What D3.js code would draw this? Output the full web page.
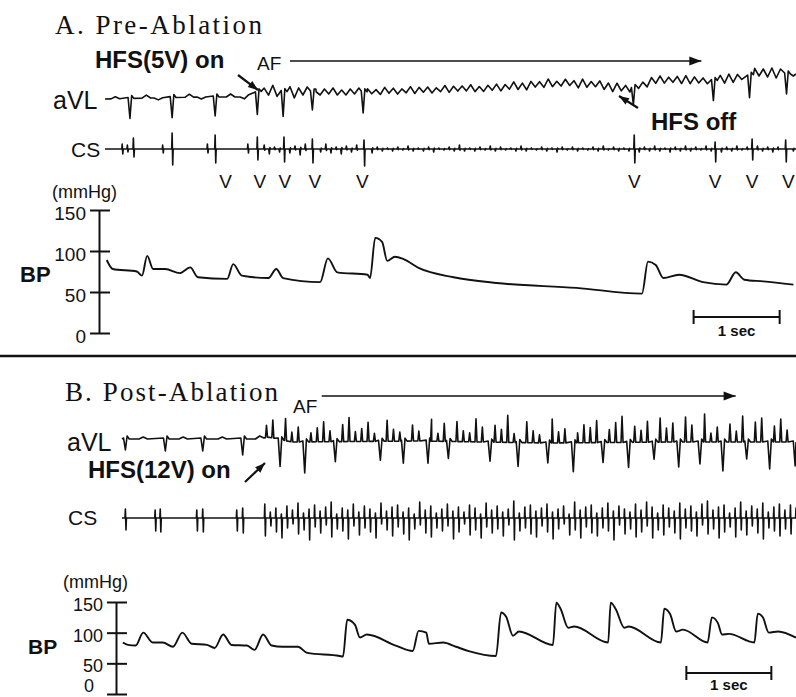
<!DOCTYPE html>
<html><head><meta charset="utf-8">
<script src="https://cdn.jsdelivr.net/npm/d3@7"></script>
<style>
body{margin:0;background:#fff}
svg{display:block}
text{font-family:"Liberation Sans",Arial,sans-serif;fill:#111}
.serif{font-family:"Liberation Serif","Times New Roman",serif}
</style></head><body>
<svg id="c" width="796" height="697"></svg>
<script>
// ================= DATA (time in seconds, trace offsets in display units, BP in mmHg) =================
const bpTicks = [0, 50, 100, 150];

// ---- Panel A : Pre-Ablation ----
const durA = 8.03;
const afSpanA = [2.15, 6.93];
const scaleBarA = [6.84, 7.84];
const vLabelsA = [1.40, 1.80, 2.09, 2.44, 2.99, 6.15, 7.09, 7.52, 7.94];
const avlBaseA = [[0,1],[1.10,3],[1.57,3],[1.83,9],[2.27,8],[2.97,8],[3.43,9],[4.13,11],[4.59,12],[5.29,17],[5.76,15],[6.10,11],[6.45,20],[6.92,19],[7.27,20],[7.57,26],[8.03,26]];
const avlQrsA = [[0.29,-20],[0.78,-20],[1.28,-19],[1.77,-22],[2.07,-25],[2.41,-18],[3.00,-21],[6.14,-17],[7.07,-20],[7.49,-22],[7.92,-20]];
const avlWavesA = [[0.12,2],[0.48,3],[0.62,-2],[0.98,3],[1.12,-2],[1.46,3],[1.62,-3]];
const avlFibA = [3,-4,6,-5,8,-3,5,-6,4,-3,5,-4,3,-3,
  3,-2,4,-3,2,-3,3,-2,4,-3,3,-2,2,-3,4,-2,3,-3,2,-2,4,-3,3,-2,3,-3,2,-2,4,-3,3,-2,3,-2,4,-3,2,-3,3,-2,
  4,-3,3,-2,5,-3,3,-4,4,-2,3,-3,5,-3,2,-3,4,-2,3,-4,5,-3,3,-2,4,-4,3,-5,4,-3,3,
  -3,4,-2,3,-3,5,-2,4,-3,3,-2,4,-3,5,-3,4,-2,3,-3,4,-2,5,-3,6,-3,4,-2,5,-3,6,-2,5,-3,6,-4,5,-3,4,-2];
const avlFibSpanA = [1.85, 8.0];
const csVA = [[0.33,11,8],[0.78,16,16],[1.28,14,14],[1.77,12,11],[2.08,12,13],[2.41,10,14],[3.01,9,17],[6.15,14,14],[7.09,7,13],[7.52,10,11],[7.91,9,13]];
const csAtrialA = [[0.20,5,5],[0.26,4,3],[0.67,4,4],[1.19,5,4],[1.66,5,4]];
const csFibA = [4,-5,2,-3,6,-4,3,-6,5,-2,4,-3,5,-4,2,-5,3,-3,4,-2,3,-4,2,
  -2,1,-2,2,-1,3,-2,1,-2,2,-3,1,-1,2,-2,4,-2,1,-2,2,-1,3,-2,2,-1,1,-2,3,-2,1,-1,2,-2,1,-3,2,-1,2,-2,1,-1,2,-2,3,-1,2,-2,1,
  -2,2,-3,2,-2,3,-2,1,-3,2,-2,3,-2,2,-1,3,-2,2,-3,2,-2,3,-1,2,-2,3,-2,2,-3,2,-1,2,-2];
const csFibSpanA = [1.85, 8.0];
const bpA = [[0.02,89],[0.09,78],[0.37,75],[0.43,70],[0.49,94],[0.56,78],[0.70,78],[0.87,73],[0.99,80],[1.08,68],[1.42,66],[1.49,84],[1.59,70],[1.90,67],[1.99,78],[2.07,67],[2.50,62],[2.59,91],[2.70,74],[3.05,71],[3.08,67],[3.14,116],[3.22,111],[3.28,88],[3.37,93],[3.47,90],[3.65,79],[4.05,68],[4.55,61],[5.48,55],[6.24,48],[6.31,87],[6.40,83],[6.49,67],[6.67,71],[6.95,62],[7.22,59],[7.33,74],[7.43,65],[7.65,63],[8.00,59]];

// ---- Panel B : Post-Ablation ----
const durB = 7.93;
const afSpanB = [2.35, 7.22];
const scaleBarB = [6.64, 7.64];
const avlBaseB = [[0,1],[1.62,1],[1.72,3],[2.0,-2],[3.5,-1],[5.0,-3],[6.5,-2],[7.93,-2]];
const avlQrsB = [[0.04,-11],[0.51,-12],[0.95,-12],[1.42,-16],[1.86,-27],[2.15,-31],[2.51,-20],[3.04,-19],[3.31,-22],[3.60,-22],[3.84,-17],[4.33,-19],[4.66,-24],[5.01,-20],[5.31,-29],[5.66,-20],[5.96,-25],[6.26,-17],[6.55,-25],[6.80,-22],[7.07,-29],[7.35,-17],[7.62,-27],[7.92,-24]];
const avlWavesB = [[0.25,2],[0.72,2],[1.18,2],[1.62,3]];
const avlSpikesB = [12,18,8,22,10,15,26,9,14,20,11,7,17,24,10,13,19,8,15,21,12,9,25,16,10,14,22,8,18,12,20,11,9,23,15,10,17,13,27,9,16,21,12,8,19,24,11,14,33,10,18,15,22,9,13,20,26,11,16,12,21,8,24,14,19,10,25,17,12,28,9,15,22,18,11,26,13,20,24,10,16,23,12,19];
const avlSpikeSpanB = [1.70, 7.90];
const csPreB = [[0.04,9,12],[0.39,8,13],[0.45,9,14],[0.88,8,13],[0.95,9,14],[1.35,8,13],[1.42,10,15]];
const csUpB = [14,6,10,4,12,8,15,5,9,13,7,11,16,4,10,8,14,6,12,9,5,15,7,11,13,6,10,4,16,8,12,5,9,14,7,11,6,13,10,4,15,8,12,6,9,17,5,11,13,7,10,14,6,9,12,4,16,8,11,13,5,10,15,7,12,9,6,14,8,16,11,5,13,10,7,15,9,12,6,14,17,8,11,13,5,10,16,7,12,9,15,6,11,14,8,13,10];
const csDownB = [18,8,14,20,10,6,16,12,22,9,15,7,19,11,13,21,8,17,10,14,20,6,12,18,9,16,22,11,7,15,19,10,13,8,21,14,6,17,12,20,9,15,11,18,7,22,13,10,16,19,8,14,21,11,6,17,12,20,9,15,18,10,13,22,7,16,11,19,14,8,20,12,17,9,15,21,10,13,18,7,16,11,20,14,9,19,12,17,8,15,21,10,13,18,11,16,14];
const csSpanB = [1.68, 7.93];
const bpB = [[0.01,84],[0.07,80],[0.16,79],[0.25,100],[0.36,84],[0.48,84],[0.60,77],[0.71,100],[0.82,82],[1.00,80],[1.09,75],[1.19,97],[1.29,80],[1.47,79],[1.56,72],[1.66,97],[1.76,79],[1.89,77],[2.07,77],[2.18,67],[2.56,62],[2.60,61],[2.65,121],[2.74,113],[2.80,92],[2.88,97],[3.22,79],[3.42,70],[3.49,103],[3.58,100],[3.61,82],[3.78,84],[3.93,77],[4.08,70],[4.40,62],[4.46,133],[4.52,126],[4.60,95],[4.67,102],[5.07,80],[5.11,149],[5.16,139],[5.25,108],[5.32,110],[5.72,84],[5.75,149],[5.81,138],[5.91,108],[5.96,110],[6.34,84],[6.38,139],[6.45,130],[6.52,102],[6.60,105],[6.89,84],[6.94,125],[7.01,116],[7.06,97],[7.14,98],[7.44,84],[7.48,131],[7.54,125],[7.61,100],[7.72,102],[7.93,92]];

// ================= DRAWING =================
const svg = d3.select("#c");
const INK = "#111";

function interp(arr, t) {
  if (t <= arr[0][0]) return arr[0][1];
  for (let i = 1; i < arr.length; i++) {
    if (t <= arr[i][0]) { const a = arr[i-1], b = arr[i]; return a[1] + (b[1]-a[1])*(t-a[0])/(b[0]-a[0]); }
  }
  return arr[arr.length-1][1];
}
function spread(vals, span) {
  const n = vals.length, step = (span[1]-span[0])/(n-1);
  return vals.map((v, i) => [span[0] + i*step, v]);
}

function drawTrace(g, x, y, base, parts, dur) {
  let v = [];
  const guard = (parts.qrs || []).map(d => d[0]).concat((parts.guard || []));
  const free = t => !guard.some(q => Math.abs(q - t) < 0.04);
  if (parts.qrs) parts.qrs.forEach(([t, d]) => { v.push([t-0.022,1],[t,d],[t+0.02,3],[t+0.045,0]); });
  if (parts.waves) parts.waves.forEach(([t, a]) => { if (free(t)) v.push([t-0.05,0],[t,a],[t+0.05,0]); });
  if (parts.zig) parts.zig.forEach(([t, a]) => { if (free(t)) v.push([t, a]); });
  if (parts.ticks) parts.ticks.forEach(([t, a]) => { if (free(t)) v.push([t-0.007,0],[t,a],[t+0.007,-a*0.3],[t+0.013,0]); });
  if (parts.spikes) parts.spikes.forEach(([t, h]) => { if (free(t)) v.push([t-0.012,0],[t,h],[t+0.012,0]); });
  if (parts.bip) parts.bip.forEach(([t, up, dn]) => { v.push([t-0.005,0],[t,up],[t+0.007,-dn],[t+0.012,0]); });
  v.push([0,0],[dur,0]);
  v = v.filter(d => d[0] >= 0 && d[0] <= dur).sort((a, b) => a[0] - b[0]);
  const line = d3.line().x(d => x(d[0])).y(d => y(interp(base, d[0]) + d[1]));
  g.append("path").attr("d", line(v)).attr("fill", "none").attr("stroke", INK)
    .attr("stroke-width", 1.6).attr("stroke-linejoin", "round");
}

function bpAxis(g, y, xAxisPos, fontSize, lowZero) {
  const left = g.append("g").attr("transform", `translate(${xAxisPos},0)`)
    .call(d3.axisLeft(y).tickValues(bpTicks).tickSizeInner(9).tickSizeOuter(0).tickPadding(4));
  left.select(".domain").attr("stroke", INK).attr("stroke-width", 2);
  left.selectAll(".tick line").attr("stroke", INK).attr("stroke-width", 2);
  left.selectAll(".tick text").attr("font-size", fontSize).attr("dy", "0.48em")
    .attr("font-family", '"Liberation Sans",Arial,sans-serif').attr("fill", INK);
  if (lowZero) {
    left.selectAll(".tick").filter(d => d === 0).select("text").attr("dy", "-0.15em").attr("x", -22);
  }
  const right = g.append("g").attr("transform", `translate(${xAxisPos},0)`)
    .call(d3.axisRight(y).tickValues(bpTicks).tickSize(11).tickFormat(""));
  right.select(".domain").remove();
  right.selectAll(".tick line").attr("stroke", INK).attr("stroke-width", 2);
}

function arrowLine(g, x1, y1, x2, y2, head, width) {
  g.append("line").attr("x1", x1).attr("y1", y1).attr("x2", x2).attr("y2", y2)
    .attr("stroke", INK).attr("stroke-width", width);
  const ang = Math.atan2(y2-y1, x2-x1);
  const p = (l, w) => [x2 - l*Math.cos(ang) - w*Math.sin(ang), y2 - l*Math.sin(ang) + w*Math.cos(ang)];
  const a = p(head, head*0.38), b = p(head, -head*0.38);
  g.append("path").attr("d", `M${x2},${y2}L${a[0]},${a[1]}L${b[0]},${b[1]}Z`).attr("fill", INK);
}

function scaleBar(g, x, span, yPos, labelY) {
  const x1 = x(span[0]), x2 = x(span[1]);
  g.append("line").attr("x1", x1).attr("x2", x2).attr("y1", yPos).attr("y2", yPos).attr("stroke", INK).attr("stroke-width", 2);
  [x1, x2].forEach(xx => g.append("line").attr("x1", xx).attr("x2", xx).attr("y1", yPos-7).attr("y2", yPos+7).attr("stroke", INK).attr("stroke-width", 2));
  g.append("text").attr("x", (x1+x2)/2).attr("y", labelY).attr("text-anchor", "middle")
    .attr("font-size", 15).attr("font-weight", "bold").text("1 sec");
}

function txt(g, s, xx, yy, size, opts = {}) {
  const t = g.append("text").attr("x", xx).attr("y", yy).attr("font-size", size).text(s);
  if (opts.bold) t.attr("font-weight", "bold");
  if (opts.cls) t.attr("class", opts.cls);
  if (opts.anchor) t.attr("text-anchor", opts.anchor);
  if (opts.len) t.attr("textLength", opts.len).attr("lengthAdjust", "spacing");
  return t;
}

// ---------- Panel A ----------
{
  const g = svg.append("g");
  const x = d3.scaleLinear().domain([0, durA]).range([105, 796]);
  const yAvl = d3.scaleLinear().domain([-40, 40]).range([140, 60]);
  const yCs = d3.scaleLinear().domain([-40, 40]).range([189, 109]);
  const yBp = d3.scaleLinear().domain([0, 150]).range([333, 210]);

  txt(g, "A. Pre-Ablation", 55, 34, 27, {cls: "serif", len: 207});
  txt(g, "HFS(5V) on", 95, 68, 24, {bold: true});
  txt(g, "AF", 257, 70, 19);
  arrowLine(g, x(afSpanA[0]), 61, x(afSpanA[1]), 61, 12, 1.5);
  arrowLine(g, 238, 75, 258, 90, 10, 2.2);
  txt(g, "HFS off", 651, 130, 24, {bold: true});
  arrowLine(g, 638, 108, 619, 96, 10, 2.2);

  txt(g, "aVL", 53, 109, 25);
  drawTrace(g, x, yAvl, avlBaseA, {qrs: avlQrsA, waves: avlWavesA, zig: spread(avlFibA, avlFibSpanA)}, durA);

  txt(g, "CS", 71, 157, 21);
  drawTrace(g, x, yCs, [[0,0],[durA,0]], {bip: csVA.concat(csAtrialA), guard: csVA.map(d => d[0]), ticks: spread(csFibA, csFibSpanA)}, durA);

  vLabelsA.forEach(t => txt(g, "V", x(t), 188, 19, {anchor: "middle"}));

  txt(g, "(mmHg)", 52, 198, 18);
  txt(g, "BP", 20, 282, 22, {bold: true});
  bpAxis(g, yBp, 99, 19, false);
  g.append("path").datum(bpA)
    .attr("d", d3.line().x(d => x(d[0])).y(d => yBp(d[1])).curve(d3.curveMonotoneX))
    .attr("fill", "none").attr("stroke", INK).attr("stroke-width", 1.9);
  scaleBar(g, x, scaleBarA, 317, 336);
}

// divider
svg.append("line").attr("x1", 0).attr("x2", 796).attr("y1", 356).attr("y2", 356).attr("stroke", INK).attr("stroke-width", 2.5);

// ---------- Panel B ----------
{
  const g = svg.append("g");
  const x = d3.scaleLinear().domain([0, durB]).range([122, 796]);
  const yAvl = d3.scaleLinear().domain([-40, 40]).range([480, 400]);
  const yCs = d3.scaleLinear().domain([-40, 40]).range([558, 478]);
  const yBp = d3.scaleLinear().domain([0, 150]).range([694, 602]);

  txt(g, "B. Post-Ablation", 65, 401, 27, {cls: "serif", len: 213});
  txt(g, "AF", 293, 413, 19);
  arrowLine(g, x(afSpanB[0]), 396, x(afSpanB[1]), 396, 12, 1.5);

  txt(g, "aVL", 67, 451, 25);
  drawTrace(g, x, yAvl, avlBaseB, {qrs: avlQrsB, waves: avlWavesB, spikes: spread(avlSpikesB, avlSpikeSpanB)}, durB);
  txt(g, "HFS(12V) on", 88, 478, 24, {bold: true});
  arrowLine(g, 245, 482, 265, 463, 10, 2.2);

  txt(g, "CS", 68, 525, 21);
  const denseB = spread(csUpB, csSpanB).map((d, i) => [d[0], d[1], csDownB[i]]);
  drawTrace(g, x, yCs, [[0,0],[durB,0]], {bip: csPreB.concat(denseB)}, durB);

  txt(g, "(mmHg)", 63, 588, 18);
  txt(g, "BP", 28, 654, 21, {bold: true});
  bpAxis(g, yBp, 116, 18, true);
  g.append("path").datum(bpB)
    .attr("d", d3.line().x(d => x(d[0])).y(d => yBp(d[1])).curve(d3.curveMonotoneX))
    .attr("fill", "none").attr("stroke", INK).attr("stroke-width", 1.9);
  scaleBar(g, x, scaleBarB, 673, 690);
}
</script>
</body></html>
